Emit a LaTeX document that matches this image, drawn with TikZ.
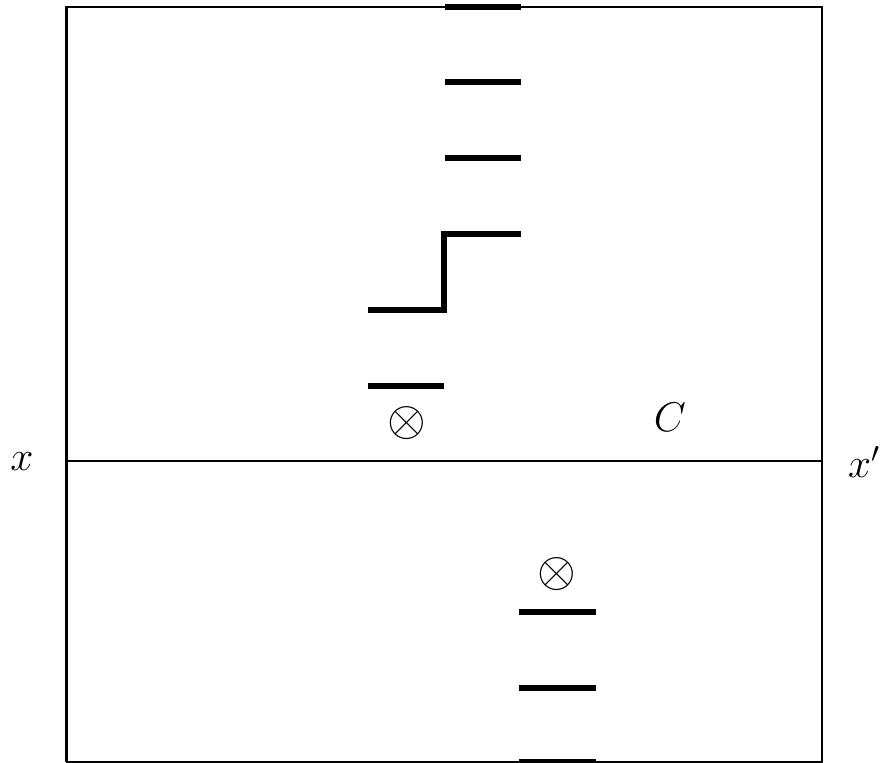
\documentclass[tikz,border=0pt]{standalone}
\usepackage{amsmath}
\usepackage{tikz}
\usetikzlibrary{calc}
\tikzset{
  frameline/.style={line width=1pt,black},
  midline/.style={line width=1pt,black},
  level/.style={line width=3pt,black,line cap=butt},
  lbl/.style={font=\fontsize{20}{24}\selectfont,inner sep=0pt},
  spin/.style={font=\fontsize{23}{26}\selectfont,inner sep=0pt},
}

\begin{document}
\begin{tikzpicture}[x=0.5pt,y=-0.5pt]
  \useasboundingbox (0,0) rectangle (891,763);
  %% ── Frame and axis ──────────────────────────────────────────────────────
  \coordinate (tl) at (66,7);
  \coordinate (tr) at (822,7);
  \coordinate (bl) at (66,762);
  \coordinate (br) at (822,762);
  \coordinate (ml) at (66,461);
  \coordinate (mr) at (822,461);
  \draw[frameline] (bl)--(tl)--(tr)--(br)--(bl);
  \draw[line width=1.5pt] (tl)--(bl);
  \draw[midline] (ml)--(mr);

  %% ── Levels, upper half ──────────────────────────────────────────────────
  \foreach \y in {7,82,158}{
    \draw[level] (445,\y)--(521,\y);
  }
  \draw[level,line join=miter] (368,310)--(444,310)--(444,234)--(521,234);
  \draw[level] (368,386)--(444,386);

  %% ── Levels, lower half ──────────────────────────────────────────────────
  \foreach \y in {612,688,762}{
    \draw[level] (519,\y)--(596,\y);
  }

  %% ── Labels ──────────────────────────────────────────────────────────────
  \node[spin] (spinA) at (407,423) {$\otimes$};
  \node[spin] (spinB) at (557,574) {$\otimes$};
  \node[lbl]  (cC)    at (670,417) {$C$};
  \node[lbl]  (xL)    at (22,462)  {$x$};
  \node[lbl]  (xR)    at (864,462) {$x'$};
\end{tikzpicture}
\end{document}
